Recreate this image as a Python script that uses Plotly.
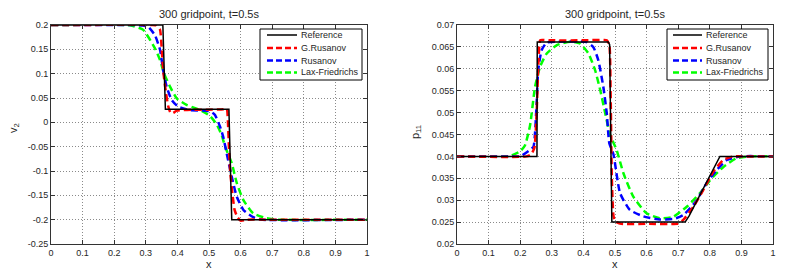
import plotly.graph_objects as go

# page body has an 8px margin, so the figure is 8px smaller and all positions are shifted by 8px
W, H = 780, 266
OFF = 8

# ---------------- data: left panel (v2) ----------------
series_names = ["Reference", "G.Rusanov", "Rusanov", "Lax-Friedrichs"]

v2_ref_x = [0, 0.354, 0.362, 0.563, 0.572, 1.0]
v2_ref_y = [0.2, 0.2, 0.027, 0.027, -0.2, -0.2]

v2_grus_x = [0, 0.32, 0.334, 0.345, 0.350, 0.355, 0.364, 0.371, 0.378, 0.386, 0.398, 0.45, 0.5, 0.545,
             0.556, 0.560, 0.563, 0.567, 0.574, 0.581, 0.590, 0.600, 0.62, 0.7, 1.0]
v2_grus_y = [0.2, 0.2, 0.199, 0.19, 0.155, 0.107, 0.06, 0.033, 0.02, 0.019, 0.024, 0.026, 0.026, 0.027,
             0.029, 0.0, -0.05, -0.1, -0.146, -0.18, -0.195, -0.202, -0.2, -0.2, -0.2]

v2_rus_x = [0, 0.27, 0.29, 0.308, 0.329, 0.345, 0.355, 0.366, 0.382, 0.403, 0.44, 0.493, 0.51, 0.519,
            0.535, 0.545, 0.556, 0.572, 0.588, 0.609, 0.64, 0.67, 1.0]
v2_rus_y = [0.2, 0.2, 0.199, 0.196, 0.179, 0.149, 0.107, 0.073, 0.046, 0.032, 0.025, 0.024, 0.02, 0.015,
            -0.009, -0.03, -0.064, -0.112, -0.153, -0.18, -0.195, -0.2, -0.2]

v2_lxf_x = [0, 0.24, 0.26, 0.292, 0.329, 0.345, 0.358, 0.377, 0.398, 0.429, 0.472, 0.503, 0.524, 0.54,
            0.551, 0.572, 0.588, 0.609, 0.64, 0.682, 0.72, 1.0]
v2_lxf_y = [0.2, 0.2, 0.198, 0.19, 0.152, 0.128, 0.1, 0.073, 0.049, 0.036, 0.025, 0.013, -0.004, -0.026,
            -0.05, -0.084, -0.125, -0.16, -0.187, -0.197, -0.2, -0.2]

# ---------------- data: right panel (p11) ----------------
p11_ref_x = [0, 0.253, 0.254, 0.479, 0.483, 0.490, 0.722, 0.735, 0.832, 1.0]
p11_ref_y = [0.04, 0.04, 0.0661, 0.0661, 0.0655, 0.0250, 0.0250, 0.0265, 0.04, 0.04]

p11_grus_x = [0, 0.22, 0.235, 0.245, 0.252, 0.258, 0.263, 0.27, 0.3, 0.4, 0.465, 0.474, 0.482, 0.486,
              0.49, 0.495, 0.5, 0.52, 0.6, 0.7, 0.716, 0.748, 0.779, 0.811, 0.843, 0.874, 0.9, 1.0]
p11_grus_y = [0.04, 0.04, 0.0405, 0.042, 0.05, 0.062, 0.0665, 0.0666, 0.0665, 0.0665, 0.0666, 0.0665,
              0.0655, 0.055, 0.035, 0.0265, 0.0252, 0.0246, 0.0246, 0.0247, 0.0255, 0.0285, 0.0323,
              0.0365, 0.0392, 0.0400, 0.04, 0.04]

p11_rus_x = [0, 0.19, 0.205, 0.231, 0.242, 0.252, 0.257, 0.268, 0.284, 0.32, 0.41, 0.431, 0.447, 0.463,
             0.474, 0.482, 0.495, 0.516, 0.547, 0.59, 0.642, 0.69, 0.716, 0.759, 0.79, 0.822, 0.854,
             0.896, 1.0]
p11_rus_y = [0.04, 0.04, 0.0402, 0.0415, 0.0422, 0.0521, 0.0597, 0.0643, 0.0660, 0.0662, 0.0661, 0.0650,
             0.062, 0.0559, 0.0498, 0.0430, 0.0405, 0.0316, 0.0278, 0.0263, 0.0256, 0.0258, 0.0266,
             0.0300, 0.0339, 0.0369, 0.0392, 0.0400, 0.04]

p11_lxf_x = [0, 0.15, 0.168, 0.199, 0.215, 0.231, 0.247, 0.263, 0.284, 0.316, 0.358, 0.389, 0.416, 0.437,
             0.453, 0.468, 0.484, 0.505, 0.527, 0.558, 0.6, 0.642, 0.684, 0.727, 0.769, 0.801, 0.843,
             0.885, 0.927, 1.0]
p11_lxf_y = [0.04, 0.04, 0.0401, 0.0411, 0.0425, 0.047, 0.0559, 0.0605, 0.0635, 0.0654, 0.0662, 0.0658,
             0.0635, 0.0597, 0.0552, 0.0502, 0.0450, 0.0415, 0.0361, 0.0308, 0.0270, 0.0259, 0.0262,
             0.0285, 0.0316, 0.0346, 0.0376, 0.0396, 0.0400, 0.04]

titles = ["300 gridpoint, t=0.5s", "300 gridpoint, t=0.5s"]
y_labels = ["v<sub>2</sub>", "p<sub>11</sub>"]
x_label = "x"
x_ticks = [0, 0.1, 0.2, 0.3, 0.4, 0.5, 0.6, 0.7, 0.8, 0.9, 1]
v2_ticks = [-0.25, -0.2, -0.15, -0.1, -0.05, 0, 0.05, 0.1, 0.15, 0.2]
p11_ticks = [0.02, 0.025, 0.03, 0.035, 0.04, 0.045, 0.05, 0.055, 0.06, 0.065, 0.07]

# ---------------- styles ----------------
colors = ["#000000", "#ff0000", "#0000ff", "#00ff00"]
widths = [1.5, 2.5, 2.5, 2.5]
dashes = ["solid", "7px,4px", "7px,4px", "7px,4px"]
FONT = "Liberation Sans, Arial, sans-serif"
TXT = "#262626"


def px(x):
    return (x - OFF) / W


def py(y):
    return 1 - (y - OFF) / H


fig = go.Figure()

left = [(v2_ref_x, v2_ref_y), (v2_grus_x, v2_grus_y), (v2_rus_x, v2_rus_y), (v2_lxf_x, v2_lxf_y)]
right = [(p11_ref_x, p11_ref_y), (p11_grus_x, p11_grus_y), (p11_rus_x, p11_rus_y), (p11_lxf_x, p11_lxf_y)]

order = [3, 2, 1, 0]
for panel, (xa, ya) in [(left, ("x", "y")), (right, ("x2", "y2"))]:
    for i in order:
        xs, ys = panel[i]
        fig.add_trace(go.Scatter(x=xs, y=ys, mode="lines", name=series_names[i], showlegend=False,
                                 line=dict(color=colors[i], width=widths[i], dash=dashes[i],
                                           shape="linear" if i == 0 else "spline", smoothing=0.5),
                                 xaxis=xa, yaxis=ya))

axis_common = dict(showline=True, linecolor="#333333", linewidth=1, mirror="ticks",
                   ticks="inside", ticklen=4, tickcolor="#333333",
                   showgrid=True, gridcolor="#8a8a8a", griddash="1px,2px", gridwidth=1,
                   zeroline=False, tickfont=dict(family=FONT, size=9, color=TXT))

ydom = [py(244), py(25)]
fig.update_layout(
    width=W, height=H, margin=dict(l=0, r=0, t=0, b=0, autoexpand=False),
    paper_bgcolor="white", plot_bgcolor="white", showlegend=False,
    font=dict(family=FONT, color=TXT),
    xaxis=dict(domain=[px(51), px(367)], range=[0, 1], tickvals=x_ticks,
               ticktext=[f"{t:g}" for t in x_ticks], anchor="y", **axis_common),
    yaxis=dict(domain=ydom, range=[-0.25, 0.2], tickvals=v2_ticks,
               ticktext=[f"{t:g}" for t in v2_ticks], anchor="x", **axis_common),
    xaxis2=dict(domain=[px(457), px(773)], range=[0, 1], tickvals=x_ticks,
                ticktext=[f"{t:g}" for t in x_ticks], anchor="y2", **axis_common),
    yaxis2=dict(domain=ydom, range=[0.02, 0.07], tickvals=p11_ticks,
                ticktext=[f"{t:g}" for t in p11_ticks], anchor="x2", **axis_common),
)

annotations = []
shapes = []
# titles and axis labels
for k, (cx, lab_x, lab_y) in enumerate([((51 + 367) / 2, 14, 128), ((457 + 773) / 2, 416, 132)]):
    annotations.append(dict(x=px(cx), y=py(14), xref="paper", yref="paper", text=titles[k],
                            showarrow=False, font=dict(family=FONT, size=11, color=TXT),
                            xanchor="center", yanchor="middle"))
    annotations.append(dict(x=px(cx), y=py(264), xref="paper", yref="paper", text=x_label,
                            showarrow=False, font=dict(family=FONT, size=11, color=TXT),
                            xanchor="center", yanchor="middle"))
    annotations.append(dict(x=px(lab_x), y=py(lab_y), xref="paper", yref="paper", text=y_labels[k],
                            showarrow=False, textangle=-90, font=dict(family=FONT, size=11, color=TXT),
                            xanchor="center", yanchor="middle"))

# legends (boxes with line samples and labels)
for (bx0, bx1, lx0, lx1, tx) in [(260, 362, 267, 297, 299), (667, 768, 673, 702, 704)]:
    shapes.append(dict(type="rect", xref="paper", yref="paper", x0=px(bx0), x1=px(bx1),
                       y0=py(80), y1=py(29), line=dict(color="#000000", width=1),
                       fillcolor="white", layer="above"))
    for k, yy in enumerate([35, 48, 60.5, 72.5]):
        shapes.append(dict(type="line", xref="paper", yref="paper", x0=px(lx0), x1=px(lx1),
                           y0=py(yy), y1=py(yy), layer="above",
                           line=dict(color=colors[k], width=widths[k],
                                     dash="solid" if k == 0 else "6px,3px")))
        annotations.append(dict(x=px(tx), y=py(yy), xref="paper", yref="paper", text=series_names[k],
                                showarrow=False, xanchor="left", yanchor="middle",
                                font=dict(family=FONT, size=9, color=TXT)))

fig.update_layout(annotations=annotations, shapes=shapes)
fig.write_html("out.html")
